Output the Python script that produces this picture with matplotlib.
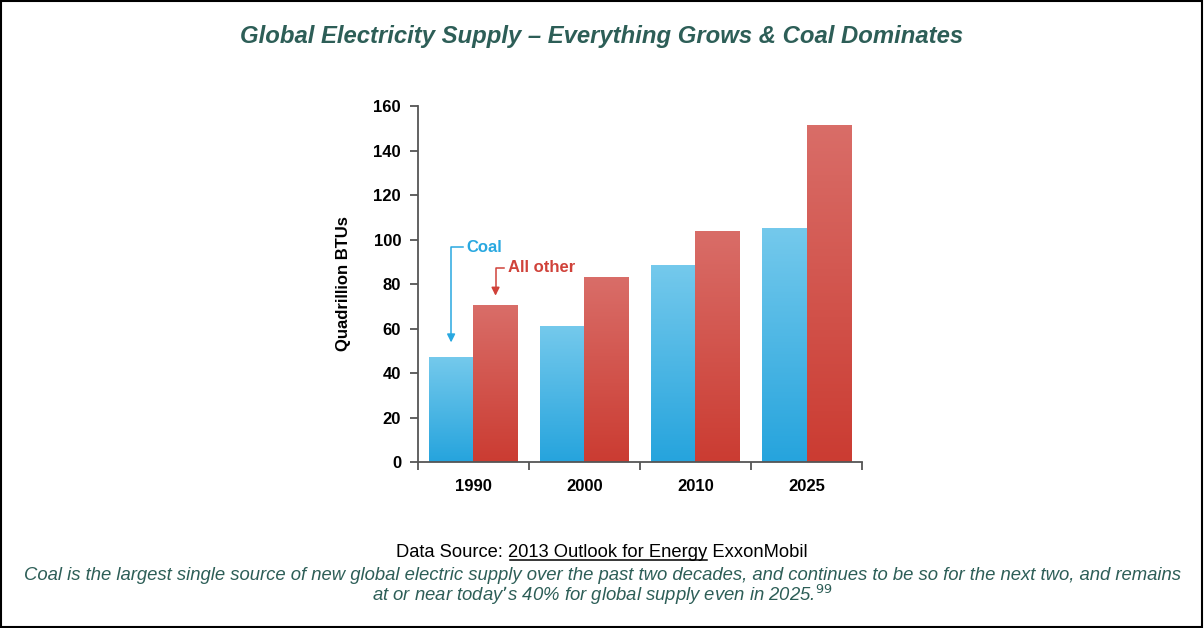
import numpy as np
import matplotlib
matplotlib.use("Agg")
import matplotlib.pyplot as plt
from matplotlib.colors import LinearSegmentedColormap
from matplotlib.patches import Rectangle

plt.rcParams['font.family'] = ['Liberation Sans', 'DejaVu Sans']

years = ['1990', '2000', '2010', '2025']
coal = [47, 61, 88.5, 105]
other = [70.5, 83, 104, 151.5]

teal = '#2d5e57'
blue_txt = '#29a8e0'
red_txt = '#d0423a'

fig = plt.figure(figsize=(12.04, 6.28), dpi=100)
ax = fig.add_axes([0.347, 0.2643, 0.369, 0.5669])

x = np.arange(len(years))
w = 0.4
coal_bars = ax.bar(x - w / 2, coal, w, color='none', edgecolor='none')
other_bars = ax.bar(x + w / 2, other, w, color='none', edgecolor='none')

cm_coal = LinearSegmentedColormap.from_list('c', ['#26a4dd', '#74c9ec'])
cm_other = LinearSegmentedColormap.from_list('o', ['#cb3c32', '#d96d68'])
grad = np.linspace(0, 1, 100).reshape(-1, 1)

# gradient fill per bar
for bars, cm in ((coal_bars, cm_coal), (other_bars, cm_other)):
    for b in bars:
        x0 = b.get_x()
        h = b.get_height()
        img = ax.imshow(grad, extent=[x0, x0 + b.get_width(), 0, h], origin='lower',
                        cmap=cm, aspect='auto', zorder=2)
        img.set_clip_path(b)

ax.set_xlim(-0.5, 3.5)
ax.set_ylim(0, 160)
ax.set_yticks(range(0, 161, 20))
ax.set_xticks(x)
ax.set_xticklabels(years)
ax.set_xticks(np.arange(-0.5, 3.6, 1), minor=True)
ax.tick_params(axis='x', which='major', length=0, pad=12, labelsize=12)
ax.tick_params(axis='x', which='minor', length=6, width=1.3, color='#555555')
ax.tick_params(axis='y', length=6, width=1.3, color='#555555', labelsize=12, pad=6)
for lab in ax.get_xticklabels() + ax.get_yticklabels():
    lab.set_fontweight('bold')
for s in ['top', 'right']:
    ax.spines[s].set_visible(False)
for s in ['left', 'bottom']:
    ax.spines[s].set_color('#555555')
    ax.spines[s].set_linewidth(1.3)
ax.set_ylabel('Quadrillion BTUs', fontsize=12, fontweight='bold', labelpad=16)

# callouts
ax.plot([-0.09, -0.2, -0.2], [96.6, 96.6, 56], color=blue_txt, lw=1.1, zorder=3)
ax.annotate('', xy=(-0.2, 52.5), xytext=(-0.2, 58),
            arrowprops=dict(arrowstyle='-|>', color=blue_txt, lw=1.1, mutation_scale=12))
ax.text(-0.06, 96.6, 'Coal', color=blue_txt, fontsize=12, fontweight='bold', va='center')
ax.plot([0.28, 0.2, 0.2], [87.3, 87.3, 77], color=red_txt, lw=1.1, zorder=3)
ax.annotate('', xy=(0.2, 73.5), xytext=(0.2, 79),
            arrowprops=dict(arrowstyle='-|>', color=red_txt, lw=1.1, mutation_scale=12))
ax.text(0.31, 87.3, 'All other', color=red_txt, fontsize=12, fontweight='bold', va='center')

fig.text(0.5, 0.942, 'Global Electricity Supply \u2013 Everything Grows & Coal Dominates',
         ha='center', va='center', fontsize=17.2, fontweight='bold', style='italic', color=teal)

# data source line with underlined part
fs = 13.2
src = fig.text(0.5, 0.121, 'Data Source: 2013 Outlook for Energy ExxonMobil',
               ha='center', va='center', fontsize=fs, color='black')
fig.canvas.draw()
r = fig.canvas.get_renderer()
full = src.get_window_extent(r)
t1 = fig.text(0, 0, 'Data Source: ', fontsize=fs)
t2 = fig.text(0, 0, 'Data Source: 2013 Outlook for Energy', fontsize=fs)
w1 = t1.get_window_extent(r).width
w2 = t2.get_window_extent(r).width
t1.remove()
t2.remove()
fw = fig.bbox.width
fh = fig.bbox.height
uy = (full.y0 + 1) / fh
fig.add_artist(plt.Line2D([(full.x0 + w1 + 2) / fw, (full.x0 + w2) / fw], [uy, uy],
                          color='black', lw=1.1))

fig.text(0.5, 0.083, 'Coal is the largest single source of new global electric supply over the past two decades, '
         'and continues to be so for the next two, and remains',
         ha='center', va='center', fontsize=13.3, style='italic', color=teal)
fig.text(0.5, 0.052, 'at or near today\u2019s 40% for global supply even in 2025.$^{99}$',
         ha='center', va='center', fontsize=13.3, style='italic', color=teal)

fig.add_artist(Rectangle((0.001, 0.002), 0.997, 0.996, transform=fig.transFigure,
                         fill=False, edgecolor='black', lw=1.5))

fig.savefig('out.png', dpi=100)
